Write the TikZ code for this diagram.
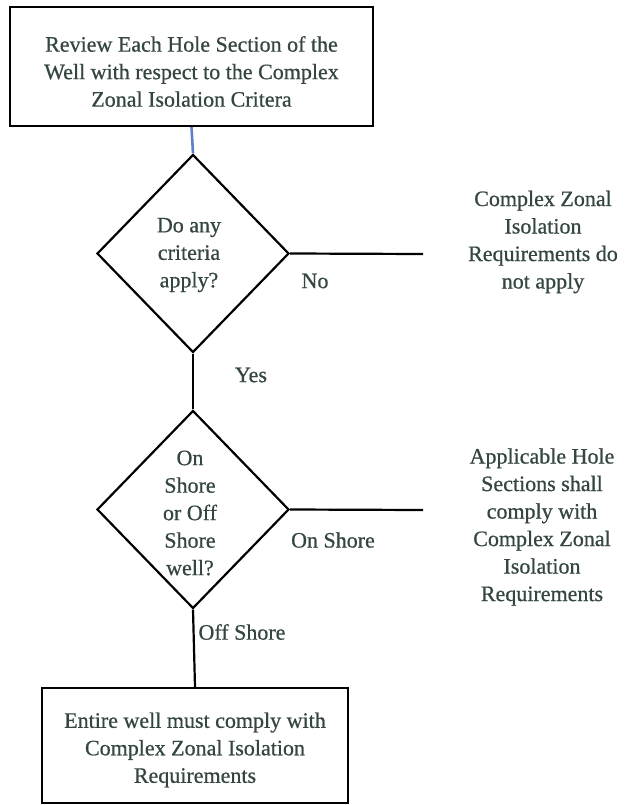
\documentclass[tikz,border=0pt]{standalone}
\usepackage{fontspec}
\setmainfont{Liberation Serif}
\newfontfamily\txtfont{Liberation Serif}[FakeBold=0.6]
\usetikzlibrary{shapes.geometric}
\definecolor{txt}{HTML}{34463F}
\definecolor{blueline}{HTML}{5F80C8}
\tikzset{
  every node/.style={text=txt, font=\txtfont\fontsize{22}{27.5}\selectfont},
  box/.style={draw=black, line width=2.2pt, rectangle, inner sep=0pt, align=center},
  decision/.style={draw=black, line width=2.2pt, diamond, inner sep=0pt, align=center, minimum width=192pt, minimum height=198pt, aspect=0.97},
  plain/.style={align=center, inner sep=0pt},
  conn/.style={draw=black, line width=2.2pt},
}
\begin{document}
\begin{tikzpicture}[x=1pt,y=-1pt]
\useasboundingbox (0,0) rectangle (624,805);
\fill[white] (0,0) rectangle (624,805);
% nodes
\node[box, minimum width=363pt, minimum height=119pt] (b1) at (191.5,66.5) {};
\node[plain] (t1) at (191.5,71.5) {Review Each Hole Section of the\\Well with respect to the Complex\\Zonal Isolation Critera};
\node[decision] (d1) at (193,253.5) {};
\node[plain] (t2) at (189,255) {Do any\\criteria\\apply?};
\node[decision] (d2) at (193,509.5) {};
\node[plain] (t3) at (190,513) {On\\Shore\\or Off\\Shore\\well?};
\node[box, minimum width=306pt, minimum height=115pt] (b2) at (195,745.5) {};
\node[plain] (t4) at (195,750) {Entire well must comply with\\Complex Zonal Isolation\\Requirements};
\node[plain] (r1) at (543,242) {Complex Zonal\\Isolation\\Requirements do\\not apply};
\node[plain] (r2) at (542,527) {Applicable Hole\\Sections shall\\comply with\\Complex Zonal\\Isolation\\Requirements};
% labels
\node[plain] (lno) at (315,281) {No};
\node[plain] (lyes) at (251,375) {Yes};
\node[plain] (lon) at (333,540) {On Shore};
\node[plain] (loff) at (242,632) {Off Shore};
% free ends
\coordinate (e1) at (423,254);
\coordinate (e2) at (423,510);
% connectors
\draw[conn, draw=blueline, line width=2.6pt] (b1.south) -- (d1.north);
\draw[conn] (d1.east) -- (e1);
\draw[conn] (d1.south) -- (d2.north);
\draw[conn] (d2.east) -- (e2);
\draw[conn] (d2.south) -- (b2.north);
\end{tikzpicture}
\end{document}
